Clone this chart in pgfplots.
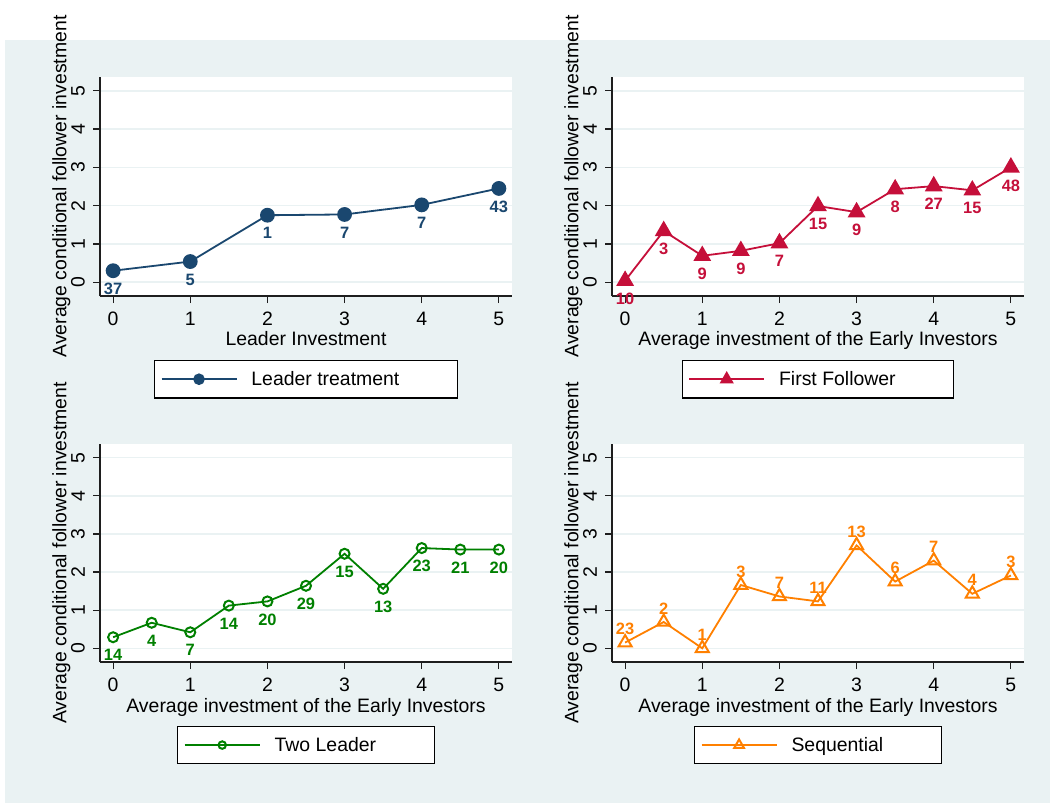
\documentclass[border=0pt]{standalone}
\usepackage{pgfplots}
\pgfplotsset{compat=1.18}
\usepackage{fontspec}
\setmainfont{Liberation Sans}
\definecolor{bg}{RGB}{234,242,243}
\definecolor{snavy}{RGB}{26,71,111}
\definecolor{sred}{RGB}{197,15,58}
\definecolor{sgreen}{RGB}{0,128,0}
\definecolor{sorange}{RGB}{255,128,0}
\definecolor{axcol}{RGB}{30,30,30}

\pgfplotstableread{
x y n
0 0.30 37
1 0.54 5
2 1.75 1
3 1.77 7
4 2.02 7
5 2.45 43
}\leader
\pgfplotstableread{
x y n
0 0.04 10
0.5 1.34 3
1 0.69 9
1.5 0.82 9
2 1.02 7
2.5 1.99 15
3 1.83 9
3.5 2.43 8
4 2.51 27
4.5 2.40 15
5 3.00 48
}\follower
\pgfplotstableread{
x y n
0 0.29 14
0.5 0.67 4
1 0.42 7
1.5 1.12 14
2 1.23 20
2.5 1.64 29
3 2.48 15
3.5 1.56 13
4 2.63 23
4.5 2.59 21
5 2.59 20
}\twoleader
\pgfplotstableread{
x y n
0 0.15 23
0.5 0.69 2
1 0.00 1
1.5 1.66 3
2 1.36 7
2.5 1.23 11
3 2.70 13
3.5 1.75 6
4 2.30 7
4.5 1.43 4
5 1.91 3
}\sequential

\pgfplotsset{
  statapanel/.style={
    scale only axis, width=412bp, height=219bp,
    xmin=-0.17, xmax=5.17, ymin=-0.36, ymax=5.36,
    xtick={0,...,5}, ytick={0,...,5},
    axis lines*=left, axis line style={-, draw=axcol, line width=1.2bp},
    tick align=outside, major tick length=7bp,
    tick style={draw=axcol, line width=1.2bp},
    ymajorgrids, grid style={draw=bg, line width=1.5bp},
    axis background/.style={fill=white},
    clip=false,
    /pgf/number format/assume math mode=true,
    tick label style={font=\fontsize{19.5}{22}\selectfont},
    xticklabel style={anchor=base, yshift=-22bp},
    yticklabel={\rotatebox{90}{\pgfmathprintnumber{\tick}}},
    yticklabel style={anchor=east, inner sep=0pt, xshift=-8bp},
    label style={font=\fontsize{19.5}{23}\selectfont},
    ylabel={Average conditional follower investment},
    ylabel style={at={(axis description cs:-0.094,0.5)}, anchor=center},
    xlabel style={at={(axis description cs:0.5,-0.226)}, anchor=base},
    legend style={at={(axis description cs:0.5,-0.38)}, anchor=center, draw=black, line width=1.2bp, fill=white,
      font=\fontsize{19.5}{23}\selectfont, inner xsep=6bp, inner ysep=9bp, nodes={inner sep=2bp}},
    legend cell align=left,
    legend image code/.code={\draw[mark repeat=2,mark phase=2, every mark/.append style={scale=0.75}] plot coordinates {(0bp,0bp) (37.5bp,0bp) (75bp,0bp)};},
    nodes near coords, point meta=explicit symbolic,
    every node near coord/.append style={font=\fontsize{16.5}{19}\selectfont\bfseries, anchor=center, yshift=-18bp},
  },
}

\begin{document}
\begin{tikzpicture}
\path[use as bounding box] (0,0) rectangle (1050bp,-803bp);
\fill[bg] (5bp,-40bp) rectangle (1050bp,-803bp);

\begin{axis}[statapanel, at={(100bp,-296bp)}, anchor=south west, xlabel={Leader Investment}]
\addplot[color=snavy, line width=1.8bp, mark=*, mark size=6.5bp, mark options={fill=snavy, draw=snavy, solid},
  nodes near coords style={text=snavy}] table[x=x, y=y, meta=n] {\leader};
\addlegendentry{\rule{12bp}{0pt}Leader treatment\rule{50bp}{0pt}}
\end{axis}

\begin{axis}[statapanel, at={(612bp,-296bp)}, anchor=south west, xlabel={Average investment of the Early Investors}]
\addplot[color=sred, line width=1.8bp, mark=triangle*, mark size=8.5bp, mark options={fill=sred, draw=sred, solid},
  nodes near coords style={text=sred}] table[x=x, y=y, meta=n] {\follower};
\addlegendentry{\rule{12bp}{0pt}First Follower\rule{50bp}{0pt}}
\end{axis}

\begin{axis}[statapanel, height=218bp, at={(100bp,-662bp)}, anchor=south west, xlabel={Average investment of the Early Investors},
  xlabel style={at={(axis description cs:0.5,-0.232)}}, legend style={at={(axis description cs:0.5,-0.381)}}]
\addplot[color=sgreen, line width=1.8bp, mark=o, mark size=5bp, mark options={draw=sgreen, line width=2bp, solid},
  nodes near coords style={text=sgreen}] table[x=x, y=y, meta=n] {\twoleader};
\addlegendentry{\rule{12bp}{0pt}Two Leader\rule{50bp}{0pt}}
\end{axis}

\begin{axis}[statapanel, height=218bp, at={(612bp,-662bp)}, anchor=south west, xlabel={Average investment of the Early Investors},
  xlabel style={at={(axis description cs:0.5,-0.232)}}, legend style={at={(axis description cs:0.5,-0.381)}}]
\addplot[color=sorange, line width=1.8bp, mark=triangle, mark size=7.5bp, mark options={draw=sorange, line width=2bp, solid},
  nodes near coords style={text=sorange, yshift=31.5bp}] table[x=x, y=y, meta=n] {\sequential};
\addlegendentry{\rule{12bp}{0pt}Sequential\rule{50bp}{0pt}}
\end{axis}
\end{tikzpicture}
\end{document}
